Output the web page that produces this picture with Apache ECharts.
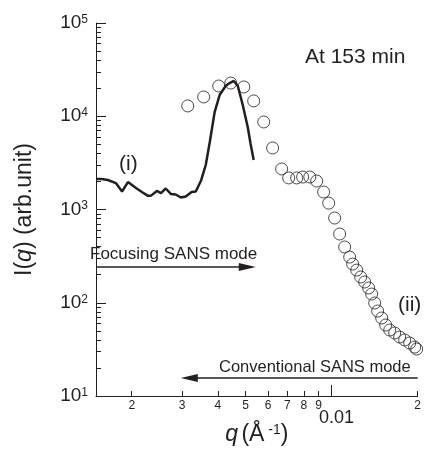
<!DOCTYPE html>
<html>
<head>
<meta charset="utf-8">
<script src="https://cdn.jsdelivr.net/npm/echarts@6/dist/echarts.min.js"></script>
<style>
html,body{margin:0;padding:0;background:#fff;}
#c{width:424px;height:456px;}
</style>
</head>
<body>
<div id="c"></div>
<script>
// Focusing SANS (line)
var focusQ = [0.0015, 0.00157, 0.00165, 0.00176, 0.00185, 0.00194, 0.00207, 0.00217, 0.00228, 0.00233, 0.00245, 0.00253, 0.00263, 0.00274, 0.00285, 0.00297, 0.00309, 0.00324, 0.00335, 0.00349, 0.00363, 0.00375, 0.00390, 0.00406, 0.00426, 0.00440, 0.00455, 0.00470, 0.00489, 0.00509, 0.00521, 0.00534];
var focusI = [2120, 2120, 2070, 1920, 1560, 1970, 1700, 1540, 1400, 1400, 1580, 1500, 1680, 1470, 1450, 1345, 1380, 1540, 1560, 2020, 3000, 5290, 11100, 16900, 21100, 22700, 23900, 21100, 13200, 7670, 5040, 3400];
// Conventional SANS (open circles)
var convQ = [0.00314, 0.00357, 0.00403, 0.00444, 0.00493, 0.00534, 0.00579, 0.00622, 0.00669, 0.00708, 0.00755, 0.00792, 0.00839, 0.00887, 0.00938, 0.00977, 0.01025, 0.01067, 0.01111, 0.01157, 0.01185, 0.01224, 0.01264, 0.01305, 0.01348, 0.01381, 0.01415, 0.01449, 0.01497, 0.01546, 0.01597, 0.01662, 0.01730, 0.01801, 0.01875, 0.01952, 0.01984];
var convI = [12900, 16100, 21100, 22700, 20600, 14600, 8680, 4570, 2720, 2180, 2180, 2230, 2230, 2020, 1540, 1170, 810, 546, 396, 309, 260, 224, 189, 167, 144, 124, 99.4, 81.5, 68.6, 57.7, 51.0, 47.4, 42.9, 39.9, 37.0, 33.5, 31.9];
// Axis ticks
var xMinorTicks = [0.002, 0.003, 0.004, 0.005, 0.006, 0.007, 0.008, 0.009, 0.02];
var xMajorTicks = [0.01];
var yMajorTicks = [10, 100, 1000, 10000, 100000];
var yMinorTicks = [20,30,40,50,60,70,80,90,200,300,400,500,600,700,800,900,2000,3000,4000,5000,6000,7000,8000,9000,20000,30000,40000,50000,60000,70000,80000,90000];

var FONT = 'Liberation Sans';
var INK = '#231f20';

function pairs(a, b) { return a.map(function (v, i) { return [v, b[i]]; }); }

var chart = echarts.init(document.getElementById('c'), null, {renderer: 'canvas'});
chart.setOption({
  backgroundColor: '#fff',
  animation: false,
  grid: {left: 96, right: 6, top: 23, bottom: 60, containLabel: false},
  xAxis: [{
    type: 'log', logBase: 10, min: 0.0015, max: 0.02, position: 'bottom',
    name: '{i|q} {n|(Å}{s| -1}{n|)}', nameLocation: 'middle', nameGap: 27,
    nameTextStyle: {rich: {
      i: {fontSize: 23, fontStyle: 'italic', fontFamily: FONT, color: INK},
      n: {fontSize: 23, fontFamily: FONT, color: INK},
      s: {fontSize: 14, fontFamily: FONT, color: INK, verticalAlign: 'top', lineHeight: 14}
    }},
    axisLine: {show: true, onZero: false, lineStyle: {color: INK, width: 1}},
    axisTick: {show: true, inside: true, length: 5, customValues: xMinorTicks, lineStyle: {color: INK, width: 1}},
    axisLabel: {show: true, customValues: xMinorTicks, margin: 4, fontSize: 12, fontFamily: FONT, color: INK,
      formatter: function (v) { return String(Math.round(v < 0.0099 ? v * 1000 : v * 100)); }},
    splitLine: {show: false}, minorTick: {show: false}
  }, {
    type: 'log', logBase: 10, min: 0.0015, max: 0.02, position: 'bottom',
    axisLine: {show: false, onZero: false},
    axisTick: {show: true, inside: true, length: 11, customValues: xMajorTicks, lineStyle: {color: INK, width: 1}},
    axisLabel: {show: true, customValues: xMajorTicks, margin: 13, fontSize: 18, fontFamily: FONT, color: INK,
      padding: [0, 0, 0, 10], formatter: function (v) { return '0.01'; }},
    splitLine: {show: false}
  }],
  yAxis: [{
    type: 'log', logBase: 10, min: 10, max: 100000, position: 'left',
    name: '{n|I(}{i|q}{n|) (arb.unit)}', nameLocation: 'middle', nameGap: 60, nameRotate: 90,
    nameTextStyle: {rich: {
      i: {fontSize: 23, fontStyle: 'italic', fontFamily: FONT, color: INK},
      n: {fontSize: 23, fontFamily: FONT, color: INK}
    }},
    axisLine: {show: true, onZero: false, lineStyle: {color: INK, width: 1}},
    axisTick: {show: true, inside: true, length: 10, customValues: yMajorTicks, lineStyle: {color: INK, width: 1}},
    axisLabel: {show: true, customValues: yMajorTicks, margin: 8,
      formatter: function (v) { return '{b|10}{s|' + Math.round(Math.log10(v)) + '}'; },
      rich: {
        b: {fontSize: 19, fontFamily: FONT, color: INK, lineHeight: 19},
        s: {fontSize: 12, fontFamily: FONT, color: INK, verticalAlign: 'top', lineHeight: 12}
      }},
    splitLine: {show: false}, minorTick: {show: false}
  }, {
    type: 'log', logBase: 10, min: 10, max: 100000, position: 'left',
    axisLine: {show: false, onZero: false},
    axisTick: {show: true, inside: true, length: 5, customValues: yMinorTicks, lineStyle: {color: INK, width: 1}},
    axisLabel: {show: false},
    splitLine: {show: false}
  }],
  series: [{
    type: 'line', name: 'Focusing', xAxisIndex: 0, yAxisIndex: 0,
    data: pairs(focusQ, focusI), showSymbol: false, symbol: 'none', smooth: false,
    lineStyle: {color: INK, width: 2.5},
    markLine: {
      silent: true, symbol: ['none', 'triangle'], symbolSize: [8, 17],
      lineStyle: {color: INK, width: 1.5, type: 'solid'}, label: {show: false},
      data: [
        [{coord: [0.0015, 242]}, {coord: [0.00507, 242]}],
        [{coord: [0.02, 15.6]}, {coord: [0.00318, 15.6]}]
      ]
    }
  }, {
    type: 'scatter', name: 'Conventional', xAxisIndex: 0, yAxisIndex: 0,
    data: pairs(convQ, convI), symbol: 'circle', symbolSize: 12,
    itemStyle: {color: 'rgba(0,0,0,0)', borderColor: INK, borderWidth: 1}
  }],
  graphic: [
    {type: 'text', left: 305, top: 47, style: {text: 'At 153 min', font: '21px "Liberation Sans"', fill: INK}},
    {type: 'text', left: 119, top: 154, style: {text: '(i)', font: '21px "Liberation Sans"', fill: INK}},
    {type: 'text', left: 398, top: 295, style: {text: '(ii)', font: '21px "Liberation Sans"', fill: INK}},
    {type: 'text', left: 90, top: 246, style: {text: 'Focusing SANS mode', font: '17px "Liberation Sans"', fill: INK}},
    {type: 'text', left: 219, top: 359, style: {text: 'Conventional SANS mode', font: '16.5px "Liberation Sans"', fill: INK}}
  ]
});
</script>
</body>
</html>
